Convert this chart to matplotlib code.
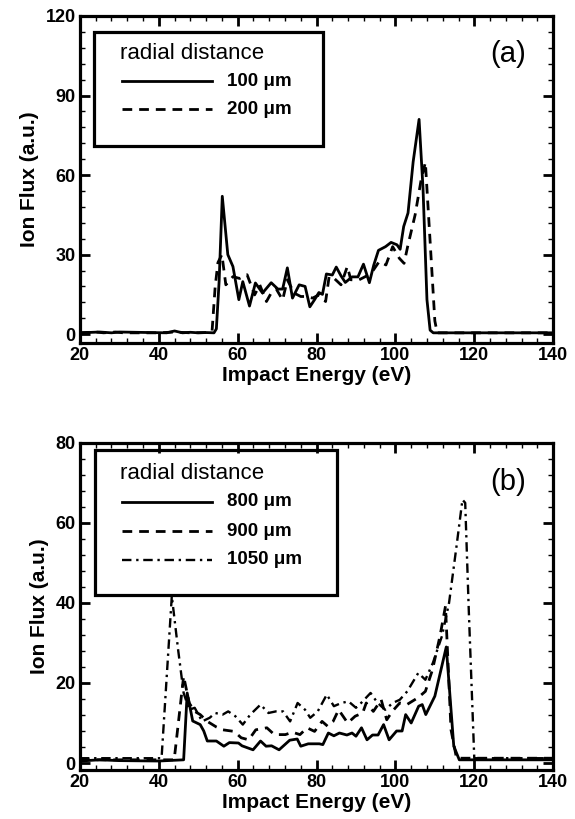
import matplotlib
matplotlib.use("Agg")
import matplotlib.pyplot as plt
from matplotlib.patches import Rectangle
from matplotlib.lines import Line2D
from matplotlib.ticker import MultipleLocator

plt.rcParams['font.family'] = ['Liberation Sans', 'DejaVu Sans']

# ---- panel (a) data ----
a_100_x = [20, 25, 28, 30, 42, 44, 46, 48, 50, 52, 54, 54.6, 55.3, 56.1, 57.5, 58.8,
           60.3, 61.3, 63, 64.5, 66.3, 68.5, 70.2, 71.4, 72.6, 73.9, 75.6, 77.1, 78.3,
           79.5, 80.6, 81.5, 82.5, 84, 85, 86.2, 87.3, 89, 90.5, 91.9, 93.4, 94.5, 95.7,
           97.5, 98.9, 100.4, 101.2, 102.1, 103.2, 104.5, 106, 107, 108, 108.8, 109.6, 140]
a_100_y = [0.5, 0.8, 0.5, 0.8, 0.5, 1.2, 0.5, 0.7, 0.5, 0.6, 0.5, 2, 20, 52, 30, 25.5,
           13, 19.8, 10.6, 19.3, 15.5, 19.4, 17, 17, 25, 13.6, 18.6, 18, 10.3,
           13, 15.7, 15, 22.7, 22.3, 25.3, 22, 19.5, 21.6, 21.6, 26.4, 19.4, 26, 31.6,
           33, 34.6, 33.7, 32, 40.6, 45.7, 65, 81, 55, 13, 1.5, 0.5, 0.5]

a_200_x = [20, 24, 26, 29, 31, 40, 44, 48, 52, 53.5, 54.3, 55, 56, 57, 58.8, 60.5,
           62.4, 64.3, 65.6, 67.3, 68.5, 69.8, 71.4, 72.6, 74.3, 76, 77.3, 79, 80.6,
           82.3, 83.2, 84.5, 86.2, 87.8, 88.7, 90.8, 92.5, 94.2, 95.9, 97.6, 99.3, 101,
           102.2, 103.1, 105, 106.5, 107.6, 108.8, 110, 110.6, 140]
a_200_y = [0.5, 0.8, 0.5, 0.8, 0.5, 0.5, 0.8, 0.5, 0.6, 1, 18, 27, 30, 18.6, 21.7, 21,
           22.4, 14.8, 18.6, 12.3, 15.5, 17, 12.9, 20.5, 15.5, 14.2, 14.2, 13.6, 14.8,
           12.3, 21.8, 21, 18.6, 25.5, 20.5, 20.5, 21.8, 23.7, 27.4, 26.1, 33, 28.6,
           26.7, 33, 45, 58, 64.8, 35, 5, 0.5, 0.5]

# ---- panel (b) data ----
b_800_x = [20, 25, 30, 40, 46.3, 47.2, 48.6, 50.5, 51.4, 52.3, 54.6, 56.5, 57.9, 60.2,
           61.1, 63.9, 65.8, 67.2, 68.6, 70.5, 73.2, 75.1, 76, 77.9, 80.7, 81.6, 83,
           84.4, 85.8, 87.7, 89, 90, 91.4, 92.8, 94.2, 95.6, 97, 98.4, 100.3, 101.7,
           102.6, 104, 105.9, 106.8, 107.7, 110, 112.9, 114.8, 116.2, 140]
b_800_y = [0.5, 0.8, 0.6, 0.5, 0.8, 17.5, 10.5, 9.6, 8, 5.5, 5.5, 4.2, 5.1, 5,
           4.3, 3.3, 5.5, 4.2, 4.3, 3.3, 5.7, 6, 4.2, 4.8, 4.8, 4.6, 7.5,
           6.8, 7.5, 7, 7.5, 6.7, 8.8, 5.8, 7, 7, 9.6, 5.8, 8, 8,
           12.1, 10, 14.2, 14.6, 12.1, 16.7, 29, 4.2, 0.8, 0.8]

b_900_x = [20, 43.9, 46.3, 47.7, 49.1, 50.5, 52.3, 54.6, 56.2, 59.1, 60.9, 62.8, 64.6,
           67.4, 69.3, 72.1, 73.9, 75.8, 77.6, 79.5, 81.4, 82.8, 84.2, 85.6, 87.9,
           89.8, 91.7, 92.6, 94.4, 96.4, 97.8, 99.2, 101.1, 102.9, 105.7, 107.6, 109.4,
           111.3, 112.7, 114.1, 115.5, 140]
b_900_y = [0.8, 0.8, 21.7, 15, 12.9, 12.1, 10.4, 9, 8.3, 7.9, 6.3, 5.8, 8.3,
           8.8, 7.1, 7.1, 7.7, 7.1, 8.8, 7.9, 10.4, 9.2, 10.4, 13.3, 10,
           11.7, 12.5, 15, 12.9, 15.8, 10.8, 12.9, 15, 14.6, 16.3, 17.9, 23.3,
           31.7, 39.2, 8.3, 1.2, 1.2]

b_1050_x = [20, 40.7, 43.3, 44.9, 46.3, 47.7, 49.1, 51, 52.9, 54.3, 56.2, 57.6, 59.4,
            61.3, 63.2, 65.8, 67.8, 69.7, 71.5, 73.3, 75.2, 77.1, 78.4, 80.3, 82.6,
            84.4, 86.3, 88.1, 90, 91.3, 93.7, 95.5, 97.4, 99.3, 101.1, 103, 105.8,
            107.6, 109.5, 111.8, 113.6, 115.5, 117, 117.7, 118.6, 120, 140]
b_1050_y = [1.2, 1.2, 41.7, 28.3, 17.5, 13.3, 13.8, 10.4, 11.3, 12.5, 12.1, 12.9, 11.7,
            9.6, 12.1, 14.6, 12.5, 12.9, 12.9, 10.4, 15, 13.3, 11.3, 12.9, 17.1,
            14.2, 15, 15.4, 13.8, 15, 17.5, 15, 13.3, 15, 15.8, 17.9, 22.5,
            20.8, 25, 31.7, 40, 54.2, 65.8, 65, 38.3, 1.2, 1.2]

a_labels = ["100 \u03bcm", "200 \u03bcm"]
b_labels = ["800 \u03bcm", "900 \u03bcm", "1050 \u03bcm"]

SOLID = dict(color="black", lw=2.0, linestyle="-")
DASH = dict(color="black", lw=2.0, linestyle=(0, (3.5, 2.5)))
DASHDOT = dict(color="black", lw=1.7, linestyle=(0, (4, 2, 1, 2)))


def style_axes(ax, ymax, ymin, ymajor, yminor):
    ax.set_xlim(20, 140)
    ax.set_ylim(ymin, ymax)
    ax.xaxis.set_major_locator(MultipleLocator(20))
    ax.xaxis.set_minor_locator(MultipleLocator(4))
    ax.yaxis.set_major_locator(MultipleLocator(ymajor))
    ax.yaxis.set_minor_locator(MultipleLocator(yminor))
    ax.tick_params(which="both", direction="in", top=True, right=True)
    ax.tick_params(which="major", length=7, width=2, labelsize=13, pad=3)
    ax.tick_params(which="minor", length=3.5, width=1)
    for lab in ax.get_xticklabels() + ax.get_yticklabels():
        lab.set_fontweight("bold")
    for sp in ax.spines.values():
        sp.set_linewidth(2.3)
    ax.set_xlabel("Impact Energy (eV)", fontsize=15, fontweight="bold", labelpad=1)
    ax.set_ylabel("Ion Flux (a.u.)", fontsize=15, fontweight="bold", labelpad=5)


def draw_legend(ax, box, title_y, rows, styles, labels):
    x0, y0, x1, y1 = box
    ax.add_patch(Rectangle((x0, y0), x1 - x0, y1 - y0, transform=ax.transAxes,
                           fill=False, lw=2.3, ec="black", zorder=5))
    ax.text(0.085, title_y, "radial distance", transform=ax.transAxes,
            fontsize=16, va="center", ha="left")
    for ry, st, lab in zip(rows, styles, labels):
        ax.add_line(Line2D([0.088, 0.28], [ry, ry], transform=ax.transAxes, **st))
        ax.text(0.31, ry, lab, transform=ax.transAxes, fontsize=13.5,
                fontweight="bold", va="center", ha="left")


fig = plt.figure(figsize=(5.75, 8.19), dpi=100)
ax1 = fig.add_axes([0.139, 0.581, 0.823, 0.3995])
ax2 = fig.add_axes([0.139, 0.0598, 0.823, 0.3995])

# panel (a)
ax1.plot(a_100_x, a_100_y, **SOLID)
ax1.plot(a_200_x, a_200_y, **DASH)
style_axes(ax1, 120, -3.4, 30, 6)
draw_legend(ax1, (0.03, 0.602, 0.514, 0.951), 0.885,
            [0.80, 0.715], [SOLID, DASH], a_labels)
ax1.text(0.905, 0.885, "(a)", transform=ax1.transAxes, fontsize=21,
         va="center", ha="center")

# panel (b)
ax2.plot(b_800_x, b_800_y, **SOLID)
ax2.plot(b_900_x, b_900_y, **DASH)
ax2.plot(b_1050_x, b_1050_y, **DASHDOT)
style_axes(ax2, 80, -1.75, 20, 4)
draw_legend(ax2, (0.032, 0.535, 0.543, 0.979), 0.905,
            [0.82, 0.73, 0.642], [SOLID, DASH, DASHDOT], b_labels)
ax2.text(0.905, 0.88, "(b)", transform=ax2.transAxes, fontsize=21,
         va="center", ha="center")

fig.savefig("out.png", dpi=100)
